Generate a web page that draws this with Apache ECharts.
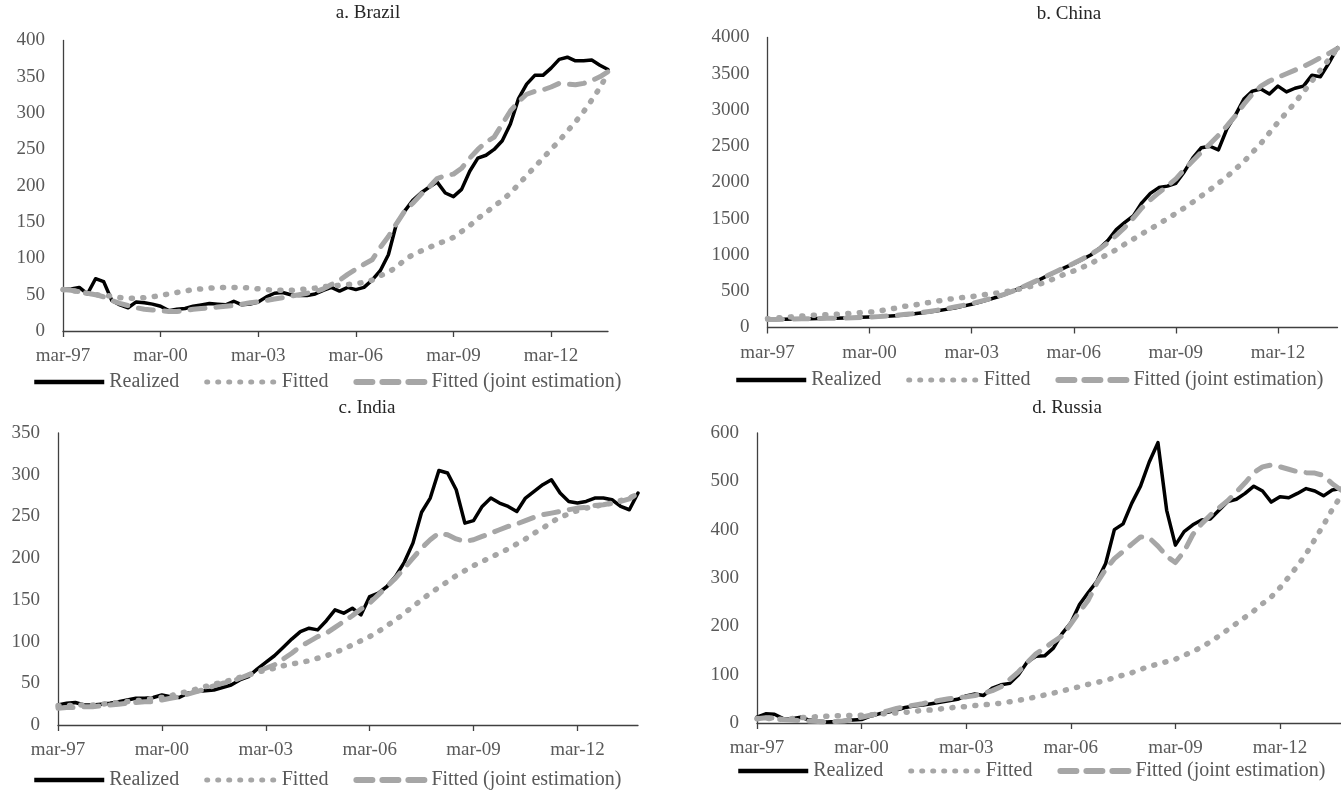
<!DOCTYPE html>
<html>
<head>
<meta charset="utf-8">
<script src="https://cdn.jsdelivr.net/npm/echarts@6/dist/echarts.min.js"></script>
<style>
html,body{margin:0;padding:0;background:#ffffff;}
#chart{width:1341px;height:792px;}
</style>
</head>
<body>
<div id="chart"></div>
<script>
// Quarterly categories, mar-97 .. dec-13
const quarters = [
 "mar-97","jun-97","sep-97","dec-97","mar-98","jun-98","sep-98","dec-98",
 "mar-99","jun-99","sep-99","dec-99","mar-00","jun-00","sep-00","dec-00",
 "mar-01","jun-01","sep-01","dec-01","mar-02","jun-02","sep-02","dec-02",
 "mar-03","jun-03","sep-03","dec-03","mar-04","jun-04","sep-04","dec-04",
 "mar-05","jun-05","sep-05","dec-05","mar-06","jun-06","sep-06","dec-06",
 "mar-07","jun-07","sep-07","dec-07","mar-08","jun-08","sep-08","dec-08",
 "mar-09","jun-09","sep-09","dec-09","mar-10","jun-10","sep-10","dec-10",
 "mar-11","jun-11","sep-11","dec-11","mar-12","jun-12","sep-12","dec-12",
 "mar-13","jun-13","sep-13","dec-13"
];
const seriesNames = ["Realized", "Fitted", "Fitted (joint estimation)"];

// a. Brazil
const brazilRealized = [57,58,60,51,72,68,42,36,32,40, 39,37,34,28,30,31,34,36,38,37, 36,41,36,37,40,47,52,53,50,49, 49,51,56,60,55,60,57,60,70,83, 105,148,165,180,190,198,205,190,185,195, 220,238,242,250,262,285,320,340,352,352, 362,374,377,372,372,373,366,360];
const brazilFitted   = [57,56,54,52,50,49,48,46,45,45, 46,47,49,51,53,55,57,58,59,60, 60,60,60,59,58,57,56,56,56,57, 58,59,61,62,63,64,65,67,70,76, 81,88,98,105,110,115,120,124,129,137, 145,155,163,172,180,190,202,214,226,238, 250,262,275,288,302,318,335,355];
const brazilJoint    = [57,56,54,52,50,47,42,38,35,32, 30,29,28,27,27,28,30,31,32,33, 34,35,37,39,40,42,44,46,48,50, 52,54,58,64,70,78,85,92,98,115, 130,148,165,176,188,198,210,214,216,224, 238,250,260,267,285,303,316,326,330,332, 336,341,340,339,341,345,350,357];

// b. China
const chinaRealized = [110,112,115,118,120,122,124,126,128,132, 136,140,145,150,156,163,172,185,200,215, 232,250,270,295,320,350,385,420,460,510, 560,610,660,720,775,830,880,940,1000,1090, 1200,1350,1450,1540,1720,1850,1930,1950,1990,2150, 2340,2480,2500,2450,2740,2930,3150,3260,3290,3220, 3330,3250,3300,3330,3480,3460,3650,3860];
const chinaFitted   = [120,130,140,148,158,168,172,178,182,190, 198,206,212,225,245,265,290,305,325,345, 365,385,400,415,425,445,460,475,495,515, 540,570,600,640,690,740,780,830,880,950, 1010,1075,1150,1220,1290,1360,1430,1500,1575,1650, 1730,1815,1900,1990,2080,2185,2290,2415,2540,2685, 2830,2965,3100,3250,3400,3550,3700,3850];
const chinaJoint    = [110,112,115,117,120,122,124,126,128,131, 135,139,143,150,158,167,178,190,205,222, 240,260,282,305,330,360,392,428,465,510, 560,612,665,720,775,830,885,945,1010,1080, 1170,1270,1380,1510,1650,1760,1860,1950,2050,2180, 2300,2420,2530,2650,2780,2920,3080,3220,3330,3400, 3450,3500,3550,3600,3660,3720,3780,3850];

// c. India
const indiaRealized = [24,26,27,24,24,25,26,28,30,32, 32,33,36,34,33,38,40,41,42,45, 48,54,58,67,75,83,93,103,112,116, 114,125,138,134,140,132,154,158,166,178, 195,218,255,272,305,302,282,242,245,262, 272,266,262,256,272,280,288,294,278,268, 266,268,272,272,270,262,258,278];
const indiaFitted   = [23,23,24,24,24,25,26,27,28,29, 30,32,33,35,38,40,43,46,49,51, 54,57,60,63,66,68,71,73,75,77, 80,83,87,91,96,101,106,112,119,126, 134,142,150,158,165,172,179,185,191,196, 201,206,211,217,223,230,236,243,249,253, 257,260,262,264,266,269,272,277];
const indiaJoint    = [20,21,21,22,22,23,24,25,26,27, 28,28,30,32,34,37,40,43,47,50, 52,56,60,64,68,72,79,86,94,100, 106,110,117,124,131,139,146,156,166,176, 188,200,212,222,230,228,223,220,222,226, 230,234,238,241,245,249,252,254,256,258, 260,261,263,264,266,268,271,278];

// d. Russia
const russiaRealized = [12,19,18,9,9,12,6,4,2,3, 5,6,7,14,19,22,27,32,35,37, 40,43,46,49,56,60,57,72,79,82, 100,126,138,139,155,185,207,245,270,293, 330,400,412,455,490,540,580,440,368,396, 410,420,422,440,458,463,475,490,480,457, 468,466,475,485,480,470,482,485];
const russiaFitted   = [9,10,8,8,9,11,12,13,14,15, 15,16,16,17,18,20,21,22,24,26, 27,29,31,33,34,36,38,39,41,44, 47,50,54,58,62,66,71,75,80,84, 88,94,99,104,111,117,122,127,132,140, 148,157,168,180,193,206,219,232,247,261, 280,302,325,350,380,410,442,470];
const russiaJoint    = [9,11,10,7,6,5,4,3,2,3, 4,7,12,16,20,25,30,34,37,40, 44,47,50,53,54,57,61,67,75,90, 106,125,143,155,168,180,205,230,254,290, 318,340,355,370,385,383,366,345,332,355, 390,412,430,445,460,478,497,518,530,534, 530,525,520,518,517,512,495,482];

// y-axis scales (tick labels come from min/max/interval)
const brazilAxis = {max: 400, interval: 50};
const chinaAxis  = {max: 4000, interval: 500};
const indiaAxis  = {max: 350, interval: 50};
const russiaAxis = {max: 600, interval: 100};

const panels = [
  {title: "a. Brazil", data: [brazilRealized, brazilFitted, brazilJoint], axis: brazilAxis,
   grid: {left: 63, top: 40.5, width: 545, height: 290.5}, titleX: 368, titleY: 4, legendX: 32, legendY: 372},
  {title: "b. China", data: [chinaRealized, chinaFitted, chinaJoint], axis: chinaAxis,
   grid: {left: 767.5, top: 37.5, width: 570, height: 290}, titleX: 1069, titleY: 5, legendX: 734, legendY: 370},
  {title: "c. India", data: [indiaRealized, indiaFitted, indiaJoint], axis: indiaAxis,
   grid: {left: 58, top: 433, width: 580, height: 292}, titleX: 367, titleY: 399, legendX: 32, legendY: 770},
  {title: "d. Russia", data: [russiaRealized, russiaFitted, russiaJoint], axis: russiaAxis,
   grid: {left: 757, top: 433, width: 590, height: 290}, titleX: 1067, titleY: 399, legendX: 736, legendY: 761}
];

const FONT = "'Liberation Serif', 'DejaVu Serif', serif";
const AXIS_COLOR = "#404040";
const LABEL_COLOR = "#595959";
const GRAY = "#a6a6a6";

const lineStyles = [
  {color: "#000000", width: 3.5, type: "solid", cap: "round", join: "round"},
  {color: GRAY, width: 5.5, type: [1, 10.5], cap: "round", join: "round"},
  {color: GRAY, width: 5, type: [15, 11], cap: "round", join: "round"}
];
const legendLineStyles = [
  {color: "#000000", width: 4.5, type: "solid", cap: "butt"},
  {color: GRAY, width: 5, type: [1, 10], cap: "round"},
  {color: GRAY, width: 6, type: [16, 10], cap: "round"}
];

const option = {
  animation: false,
  backgroundColor: "#ffffff",
  title: [], grid: [], xAxis: [], yAxis: [], legend: [], series: []
};

panels.forEach((p, k) => {
  option.title.push({
    text: p.title, left: p.titleX, top: p.titleY, textAlign: "center", padding: 0,
    textStyle: {fontFamily: FONT, fontSize: 19, fontWeight: "normal", color: "#262626"}
  });
  option.grid.push(Object.assign({containLabel: false}, p.grid));
  option.xAxis.push({
    type: "category", gridIndex: k, data: quarters, boundaryGap: false,
    axisLine: {show: true, lineStyle: {color: AXIS_COLOR, width: 1.3}},
    axisTick: {show: true, interval: 11, length: 6, inside: false, lineStyle: {color: AXIS_COLOR, width: 1.3}},
    axisLabel: {interval: 11, margin: 16, color: LABEL_COLOR, fontFamily: FONT, fontSize: 19},
    splitLine: {show: false}
  });
  option.yAxis.push({
    type: "value", gridIndex: k, min: 0, max: p.axis.max, interval: p.axis.interval,
    axisLine: {show: true, lineStyle: {color: AXIS_COLOR, width: 1.3}},
    axisTick: {show: false},
    axisLabel: {margin: 18, color: LABEL_COLOR, fontFamily: FONT, fontSize: 19,
                formatter: (v) => String(v)},
    splitLine: {show: false}
  });
  option.legend.push({
    data: seriesNames.map((name, s) => ({
      name: name,
      lineStyle: legendLineStyles[s],
      itemStyle: {opacity: 0, borderWidth: 0}
    })),
    left: p.legendX, top: p.legendY, orient: "horizontal",
    itemWidth: 70, itemHeight: 14, itemGap: 25, padding: 0, selectedMode: false,
    textStyle: {color: LABEL_COLOR, fontFamily: FONT, fontSize: 20, lineHeight: 20}
  });
  seriesNames.forEach((name, s) => {
    option.series.push({
      type: "line", name: name, xAxisIndex: k, yAxisIndex: k,
      data: p.data[s], symbol: "none", showSymbol: false, smooth: false,
      lineStyle: lineStyles[s], itemStyle: {color: lineStyles[s].color},
      z: 2 + s, silent: true
    });
  });
});

const chart = echarts.init(document.getElementById("chart"), null, {renderer: "canvas"});
chart.setOption(option);
</script>
</body>
</html>
